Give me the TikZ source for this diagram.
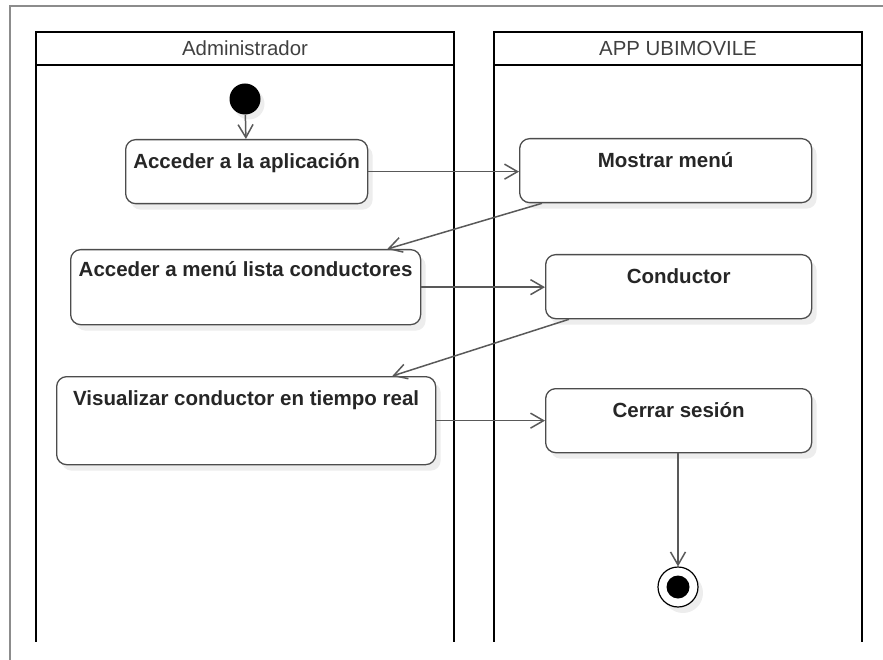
\documentclass[tikz,border=0pt]{standalone}
\usepackage{fontspec}
\setmainfont{Liberation Sans}
\usetikzlibrary{arrows.meta,positioning,shadows}

\begin{document}
\begin{tikzpicture}[
    x=1pt, y=-1pt,
    >={Straight Barb[length=13pt,width=15pt]},
    lanehead/.style={draw, line width=2pt, minimum width=418pt, minimum height=33pt,
      inner sep=0pt, outer sep=0pt, font=\fontsize{20.4}{24}\selectfont, text=black!75},
    lanebody/.style={minimum width=418pt, minimum height=577pt,
      inner sep=0pt, outer sep=0pt},
    laneside/.style={line width=2pt, black},
    action/.style={draw=black!70, line width=1.3pt, rounded corners=10pt, fill=white,
      inner sep=0pt, text height=28.5pt, anchor=north west,
      font=\bfseries\fontsize{20.5}{24}\selectfont, text=black!85,
      drop shadow={shadow xshift=5pt, shadow yshift=-6pt, fill=black!7, opacity=1}},
    startnode/.style={circle, fill=black, minimum size=31pt, inner sep=0pt,
      drop shadow={shadow xshift=4pt, shadow yshift=-5pt, fill=black!7, opacity=1}},
    endnode/.style={circle, draw=black, line width=1.2pt, fill=white,
      minimum size=40pt, inner sep=0pt,
      path picture={\fill[black] (path picture bounding box.center) circle (11.5pt);},
      drop shadow={shadow xshift=5pt, shadow yshift=-6pt, fill=black!7, opacity=1}},
    flow/.style={->, line width=1.5pt, black!65},
  ]
  \useasboundingbox (0,0) rectangle (883,660);

  % Outer frame
  \draw[black!45, line width=2pt] (883,6) -- (10,6) -- (10,660);

  % Lanes
  \node[lanehead, anchor=north west] (adminhead) at (36,32) {Administrador};
  \node[lanebody, below=0pt of adminhead] (adminlane) {};
  \draw[laneside] (adminlane.north west) -- (adminlane.south west);
  \draw[laneside] (adminlane.north east) -- (adminlane.south east);
  \node[lanehead, anchor=north west, minimum width=368pt] (apphead) at (494,32) {APP UBIMOVILE};
  \node[lanebody, minimum width=368pt, below=0pt of apphead] (applane) {};
  \draw[laneside] (applane.north west) -- (applane.south west);
  \draw[laneside] (applane.north east) -- (applane.south east);

  % Administrador
  \node[startnode] (start) at (245,99) {};
  \node[action, minimum width=242pt, text depth=35.5pt] (acceder) at (125,139)
    {Acceder a la aplicación};
  \node[action, minimum width=350pt, text depth=48pt, text height=27pt] (menulista) at (70,249)
    {Acceder a menú lista conductores};
  \node[action, minimum width=379pt, text depth=59.5pt] (visualizar) at (56,376)
    {Visualizar conductor en tiempo real};

  % APP UBIMOVILE
  \node[action, minimum width=292pt, text depth=35.5pt] (mostrar) at (519,138)
    {Mostrar menú};
  \node[action, minimum width=266pt, text depth=35.5pt] (conductor) at (545,254)
    {Conductor};
  \node[action, minimum width=266pt, text depth=35.5pt] (cerrar) at (545,388)
    {Cerrar sesión};
  \node[endnode] (fin) at (678,587) {};

  % Flows
  \draw[flow] (start) -- (acceder);
  \draw[flow] (acceder.east) -- (acceder.east -| mostrar.west);
  \draw[flow] ([xshift=23pt]mostrar.south west) -- ([xshift=-34pt]menulista.north east);
  \draw[flow] (menulista.east) -- (menulista.east -| conductor.west);
  \draw[flow] ([xshift=24pt]conductor.south west) -- ([xshift=-44pt]visualizar.north east);
  \draw[flow] (visualizar.east) -- (visualizar.east -| cerrar.west);
  \draw[flow] (cerrar.south -| fin) -- (fin);
\end{tikzpicture}
\end{document}
